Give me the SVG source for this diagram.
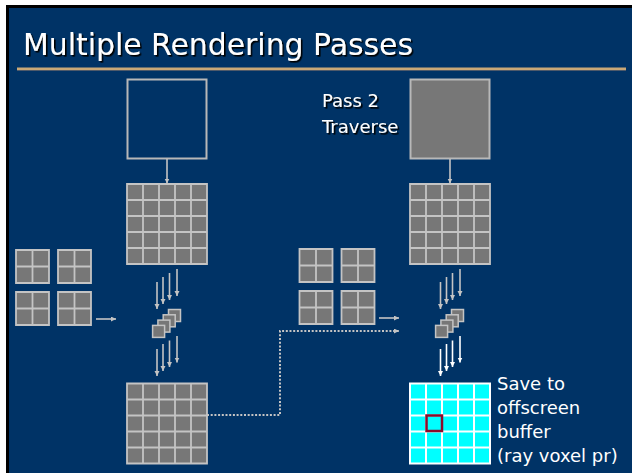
<svg xmlns="http://www.w3.org/2000/svg" width="632" height="473" viewBox="0 0 632 473">
  <style>
    .cell{fill:#777777}
    .gl{fill:none;stroke:#c4c4c4;stroke-width:1.8}
    .wl{fill:none;stroke:#ffffff;stroke-width:2}
    .arr{fill:none;stroke:#c4c4c4;stroke-width:1.6;marker-end:url(#ah)}
    .warr{fill:none;stroke:#ffffff;stroke-width:1.6;marker-end:url(#ahw)}
    .cube{fill:#777777;stroke:#c4c4c4;stroke-width:1.5}
    .t{font-family:"DejaVu Sans","Liberation Sans",sans-serif;fill:#ffffff}
    .shadow{filter:url(#drop)}
  </style>
  <defs>
    <filter id="drop" x="-5%" y="-20%" width="110%" height="140%">
      <feDropShadow dx="1.6" dy="1.6" stdDeviation="0.3" flood-color="#000000" flood-opacity="1"/>
    </filter>
    <marker id="ah" markerUnits="userSpaceOnUse" markerWidth="6" markerHeight="6" refX="5" refY="2.5" orient="auto">
      <path d="M0,0 L5,2.5 L0,5 z" fill="#c4c4c4"/>
    </marker>
    <marker id="ahw" markerUnits="userSpaceOnUse" markerWidth="6" markerHeight="6" refX="5" refY="2.5" orient="auto">
      <path d="M0,0 L5,2.5 L0,5 z" fill="#ffffff"/>
    </marker>
    <!-- 5x5 grid of grey cells -->
    <g id="grid5">
      <rect class="cell" x="0" y="0" width="80" height="80"/>
      <path class="gl" d="M0,0H80V80H0Z M16,0V80 M32,0V80 M48,0V80 M64,0V80 M0,16H80 M0,32H80 M0,48H80 M0,64H80"/>
    </g>
    <!-- 2x2 grid of grey cells -->
    <g id="grid2">
      <rect class="cell" x="0" y="0" width="33" height="33"/>
      <path class="gl" d="M0,0H33V33H0Z M16.5,0V33 M0,16.5H33"/>
    </g>
    <!-- stack of four small fragments -->
    <g id="stack">
      <rect class="cube" x="0" y="0" width="12" height="12"/>
      <rect class="cube" x="-5.3" y="5.3" width="12" height="12"/>
      <rect class="cube" x="-10.6" y="10.6" width="12" height="12"/>
      <rect class="cube" x="-15.9" y="15.9" width="12" height="12"/>
    </g>
  </defs>

  <!-- slide frame -->
  <rect x="0" y="0" width="632" height="473" fill="#ffffff"/>
  <rect x="6" y="5" width="626" height="468" fill="#000000"/>
  <rect x="9" y="8" width="623" height="465" fill="#003366"/>

  <!-- title -->
  <g id="title">
    <text class="t shadow" x="23" y="55" font-size="30" textLength="390" lengthAdjust="spacingAndGlyphs">Multiple Rendering Passes</text>
    <rect x="17" y="67.5" width="609" height="2.5" fill="#c9a877"/>
    <rect x="17" y="70" width="609" height="1" fill="#4f5a6a"/>
  </g>

  <!-- pass 1 column -->
  <g id="box1"><rect x="127.5" y="79.5" width="79" height="79" fill="none" stroke="#b8b8b8" stroke-width="2"/></g>
  <g id="grid1"><use href="#grid5" x="127" y="184"/></g>
  <g id="frags1">
    <use href="#grid2" x="16" y="250"/>
    <use href="#grid2" x="58" y="250"/>
    <use href="#grid2" x="16" y="292"/>
    <use href="#grid2" x="58" y="292"/>
  </g>
  <g id="stack1"><use href="#stack" x="168.5" y="309.5"/></g>
  <g id="grid3"><use href="#grid5" x="127" y="383.5"/></g>

  <!-- pass 2 column -->
  <g id="box2"><rect x="410.5" y="79.5" width="79" height="79" fill="#777777" stroke="#b8b8b8" stroke-width="2"/></g>
  <g id="label2">
    <text class="t shadow" font-size="18"><tspan x="322" y="107">Pass 2</tspan><tspan x="322" y="133">Traverse</tspan></text>
  </g>
  <g id="grid2n"><use href="#grid5" x="410" y="184"/></g>
  <g id="frags2">
    <use href="#grid2" x="299.5" y="249"/>
    <use href="#grid2" x="341.5" y="249"/>
    <use href="#grid2" x="299.5" y="291"/>
    <use href="#grid2" x="341.5" y="291"/>
  </g>
  <g id="stack2"><use href="#stack" x="451.5" y="309.5"/></g>
  <g id="buffer">
    <rect x="410" y="383.5" width="80" height="80" fill="#00ffff"/>
    <path class="wl" d="M410,383.5H490V463.5H410Z M426,383.5V463.5 M442,383.5V463.5 M458,383.5V463.5 M474,383.5V463.5 M410,399.5H490 M410,415.5H490 M410,431.5H490 M410,447.5H490"/>
    <rect x="426.5" y="415.5" width="15.5" height="15.5" fill="none" stroke="#8b0a2a" stroke-width="2.5"/>
  </g>
  <g id="label3">
    <text class="t" font-size="18"><tspan x="497" y="390">Save to</tspan><tspan x="497" y="414">offscreen</tspan><tspan x="497" y="438">buffer</tspan><tspan x="497" y="462">(ray voxel pr)</tspan></text>
  </g>

  <!-- connectors -->
  <g id="connectors">
    <line class="arr" x1="167" y1="159" x2="167" y2="183.5"/>
    <line class="arr" x1="450" y1="159" x2="450" y2="183.5"/>

    <line class="arr" x1="96" y1="319" x2="116" y2="319"/>
    <line class="arr" x1="379" y1="318" x2="399" y2="318"/>

    <line class="arr" x1="157" y1="282" x2="157" y2="309"/>
    <line class="arr" x1="163" y1="277" x2="163" y2="304"/>
    <line class="arr" x1="169.5" y1="273" x2="169.5" y2="300"/>
    <line class="arr" x1="177" y1="269" x2="177" y2="296"/>

    <line class="arr" x1="157" y1="349" x2="157" y2="376"/>
    <line class="arr" x1="163" y1="344" x2="163" y2="371"/>
    <line class="arr" x1="169.5" y1="340.5" x2="169.5" y2="367"/>
    <line class="arr" x1="177" y1="336" x2="177" y2="362.5"/>

    <line class="arr" x1="440.5" y1="282" x2="440.5" y2="309"/>
    <line class="arr" x1="446.5" y1="277" x2="446.5" y2="304"/>
    <line class="arr" x1="452.5" y1="273" x2="452.5" y2="300"/>
    <line class="arr" x1="460" y1="269" x2="460" y2="296"/>

    <line class="warr" x1="440.5" y1="349" x2="440.5" y2="376"/>
    <line class="warr" x1="446.5" y1="344" x2="446.5" y2="371"/>
    <line class="warr" x1="452.5" y1="340.5" x2="452.5" y2="367"/>
    <line class="warr" x1="460" y1="336" x2="460" y2="362.5"/>

    <path d="M207,415 H280 V331 H399" fill="none" stroke="#c4c4c4" stroke-width="2" stroke-dasharray="2 1.7" marker-end="url(#ah)"/>
  </g>
</svg>
